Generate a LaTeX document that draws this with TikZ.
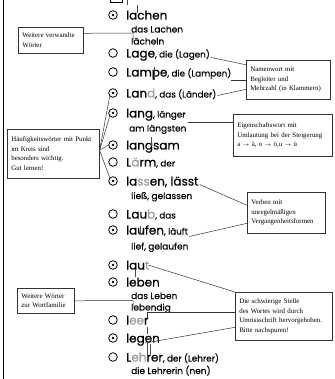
\documentclass[tikz,border=0pt]{standalone}
\usepackage{fontspec}
\setmainfont{Liberation Serif}
\newfontfamily\wf{Poppins}[FakeBold=0.6]
\newfontfamily\wfs{Poppins}[FakeBold=0.35]
\newcommand\sm{\wfs\fontsize{8.8}{9}\selectfont}
\newcommand\olt[1]{\textcolor{black!38}{#1}}
\begin{document}
\begin{tikzpicture}[x=1pt,y=-1pt,
 cbox/.style={draw=black!80, line width=0.6pt, fill=white, align=left, inner xsep=4pt, inner ysep=2pt, anchor=north west, font=\fontsize{6.9}{9.5}\selectfont},
 mainw/.style={anchor=base west, inner sep=0pt, font=\wf\fontsize{12}{12}\selectfont},
 subw/.style={anchor=base west, inner sep=0pt, font=\wfs\fontsize{9}{9}\selectfont},
 oc/.style={circle, draw, line width=0.8pt, minimum size=8.6pt, inner sep=0pt},
 dc/.style={oc, path picture={\fill (path picture bounding box.center) circle (1.3pt);}},
 con/.style={line width=0.5pt, draw=black!80},
 tick/.style={line width=0.5pt, draw=black!70}]
\useasboundingbox (0,0) rectangle (334,379);
% left border and top fragment
\draw[line width=0.9pt] (3,0) -- (3,379);
\draw[line width=0.6pt] (110,0) -- (110,2.2) -- (122,2.2) -- (122,0);
\draw[tick] (127,0) -- (127,5);
% circles
\node[dc] (c1) at (113,15) {};
\node[oc] (c2) at (113,53) {};
\node[oc] (c3) at (113,72) {};
\node[dc] (c4) at (113,93) {};
\node[dc] (c5) at (113,113) {};
\node[dc] (c6) at (113,145) {};
\node[oc] (c7) at (113,162) {};
\node[dc] (c8) at (113,181) {};
\node[oc] (c9) at (113,214) {};
\node[dc] (c10) at (113,230) {};
\node[dc] (c11) at (113,265) {};
\node[dc] (c12) at (113,282) {};
\node[oc] (c13) at (113,320) {};
\node[dc] (c14) at (113,338) {};
\node[oc] (c15) at (113,357) {};
% words
\node[mainw] (w1) at (126,19.5) {lachen};
\node[subw] (s1a) at (131,32.5) {das Lachen};
\node[subw] (s1b) at (131,44.5) {lächeln};
\node[mainw] (w2) at (126,57.5) {Lage{\sm, die (Lagen)}};
\node[mainw] (w3) at (126,76.5) {Lampe{\sm, die (Lampen)}};
\node[mainw] (w4) at (126,97.5) {Lan\olt{d}{\sm, das (Länder)}};
\node[mainw] (w5) at (126,117.5) {lang{\sm, länger}};
\node[subw] (s5) at (129,131.5) {am längsten};
\node[mainw] (w6) at (126,149.5) {langsam};
\node[mainw] (w7) at (126,166.5) {L\olt{ä}rm{\sm, der}};
\node[mainw] (w8) at (126,185.5) {la\olt{ss}en, lässt};
\node[subw] (s8) at (131,199) {ließ, gelassen};
\node[mainw] (w9) at (126,218.5) {Lau\olt{b}{\sm, das}};
\node[mainw] (w10) at (126,234.5) {laufen{\sm, läuft}};
\node[subw] (s10) at (131,249.5) {lief, gelaufen};
\node[mainw] (w11) at (126,269.5) {lau\olt{t}};
\node[mainw] (w12) at (126,286.5) {leben};
\node[subw] (s12a) at (131,299) {das Leben};
\node[subw] (s12b) at (131,310.5) {lebendig};
\node[mainw] (w13) at (126,324.5) {l\olt{ee}r};
\node[mainw] (w14) at (126,342.5) {legen};
\node[mainw] (w15) at (126,361.5) {L\olt{eh}rer{\sm, der (Lehrer)}};
\node[subw] (s15) at (131,374) {die Lehrerin (nen)};
% small marks inside the words
\draw[tick] (137,5) -- (137,13);
\draw[tick] (154,67) -- (154,80);
\draw[tick] (151,137) -- (151,146);
\draw[tick] (140,226) -- (140,233);
\draw[tick] (135,270) -- (135,277);
\draw[tick] (147,327) -- (147,334);
\draw[tick] (147,342) -- (147,356);
\draw[tick] (150,344) -- (150,356);
% boxes
\node[cbox, text width=57pt, minimum height=26pt] (b1) at (18,27) {Weitere verwandte\\Wörter};
\node[cbox, text width=76pt, minimum height=39pt] (b2) at (246,60) {Namenwort mit\\Begleiter und\\Mehrzahl (in Klammern)};
\node[cbox, text width=84pt, minimum height=49pt] (b3) at (7,129) {Häufigkeitswörter mit Punkt\\im Kreis sind\\besonders wichtig.\\Gut lernen!};
\node[cbox, text width=91pt, minimum height=42pt] (b4) at (233,114) {Eigenschaftswort mit\\Umlautung bei der Steigerung\\a {\tiny$\rightarrow$} ä, o {\tiny$\rightarrow$} ö,u {\tiny$\rightarrow$} ü};
\node[cbox, text width=70pt, minimum height=41pt] (b5) at (247,192) {Verben mit\\unregelmäßigen\\Vergangenheitsformen};
\node[cbox, text width=49pt, minimum height=25pt] (b6) at (17,288) {Weitere Wörter\\zur Wortfamilie};
\node[cbox, text width=89pt, minimum height=48pt] (b7) at (235,292) {Die schwierige Stelle\\des Wortes wird durch\\Umrissschrift hervorgehoben.\\Bitte nachspuren!};
% connectors
\coordinate (k1) at (133,33);
\draw[con] ([yshift=7pt]b1.east) -- (k1) -- (133,42);
\draw[con] ([xshift=1pt]w2.base east) -- ([yshift=15pt]b2.west);
\draw[con] (w3.base east |- b2.west) -- (b2.west);
\draw[con] ([xshift=1pt,yshift=2pt]w4.base east) -- ([yshift=-9.5pt]b2.west);
\coordinate (f3) at ([yshift=3.5pt]b3.east);
\draw[con] (f3) -- (c4.south west);
\draw[con] (f3) -- (c5.south west);
\draw[con] (f3) -- (c6.west);
\draw[con] (f3) -- (c8.north west);
\coordinate (b4in) at ([yshift=13pt]b4.west);
\draw[con] ([xshift=1pt]b4in -| s5.east) -- (b4in);
\draw[con] ([xshift=1pt,yshift=1pt]w8.base east) -- ([yshift=7.5pt]b5.west);
\draw[con] ([xshift=1pt,yshift=-2pt]w10.base east) -- ([yshift=-10.5pt]b5.west);
\coordinate (k6) at (133,300.5);
\draw[con] (b6.east) -- (k6) -- (133,307);
\draw[con] ([xshift=-1pt]w11.east) -- (b7.north west);
\coordinate (k7) at (147,312);
\draw[con] (147,318) -- (k7) -- (k7 -| b7.west);
\draw[con] (145,343) -- ([yshift=-11pt]b7.west);
\end{tikzpicture}
\end{document}
